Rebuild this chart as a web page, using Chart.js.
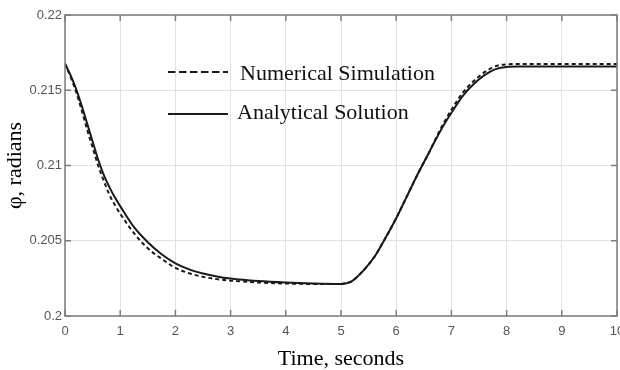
<!DOCTYPE html>
<html>
<head>
<meta charset="utf-8">
<script src="https://cdn.jsdelivr.net/npm/chart.js@4.4.1/dist/chart.umd.min.js"></script>
<style>
  html, body { margin: 0; padding: 0; background: #fff; }
</style>
</head>
<body>
<canvas id="phiChart" width="620" height="370"></canvas>
<script>
// time axis (seconds) shared by both curves
const timeS = [0, 0.1, 0.2, 0.3, 0.4, 0.5, 0.6, 0.7, 0.8, 0.9, 1.0, 1.25, 1.5, 1.75, 2.0, 2.25, 2.5, 2.75, 3.0, 3.5, 4.0, 4.5, 5.0,
  5.1, 5.2, 5.4, 5.6, 5.8, 6.0, 6.2, 6.4, 6.6, 6.8, 7.0, 7.2, 7.4, 7.6, 7.8, 8.0, 8.2, 8.5, 9.0, 9.5, 10];

const analytical = [0.21676, 0.2160, 0.2151, 0.2140, 0.2128, 0.2116, 0.2104, 0.2094, 0.2086, 0.2079, 0.2073,
  0.2059, 0.2049, 0.2041, 0.2035, 0.2031, 0.20283, 0.20263, 0.20249, 0.20232, 0.20222, 0.20216, 0.20213,
  0.20218, 0.20232, 0.2030, 0.2039, 0.20515, 0.2065, 0.2080, 0.2095, 0.2109, 0.2123, 0.2135, 0.2146, 0.2154, 0.2160, 0.2164,
  0.21655, 0.21657, 0.21657, 0.21657, 0.21657, 0.21657];

const numerical = [0.21676, 0.2159, 0.2149, 0.2137, 0.2124, 0.2112, 0.2100, 0.2090, 0.2081, 0.2074, 0.2068,
  0.2055, 0.2045, 0.2038, 0.2032, 0.20284, 0.2026, 0.20245, 0.20235, 0.20223, 0.20216, 0.20213, 0.20213,
  0.20218, 0.20232, 0.2030, 0.2039, 0.20515, 0.2065, 0.2080, 0.2095, 0.2109, 0.2124, 0.2137, 0.2148, 0.2156, 0.2162, 0.2166,
  0.21672, 0.21674, 0.21674, 0.21674, 0.21674, 0.21674];

const xTicks = [0, 1, 2, 3, 4, 5, 6, 7, 8, 9, 10];
const xTickLabels = ['0', '1', '2', '3', '4', '5', '6', '7', '8', '9', '10'];
const yTicks = [0.2, 0.205, 0.21, 0.215, 0.22];
const yTickLabels = ['0.2', '0.205', '0.21', '0.215', '0.22'];

const tickFont = {family: '"Liberation Sans Narrow", "Arial Narrow", "Liberation Sans", sans-serif', size: 13};
const serif = '"Liberation Serif", "Times New Roman", serif';

function toPoints(ys) {
  return timeS.map((t, i) => ({x: t, y: ys[i]}));
}

// box around the plot, inward tick marks (matlab look) and the legend inside the axes
const boxPlugin = {
  id: 'box',
  afterDraw(chart) {
    const {ctx, chartArea: a, scales: {x, y}} = chart;
    ctx.save();
    ctx.strokeStyle = '#7d7d7d';
    ctx.lineWidth = 1.5;
    ctx.strokeRect(a.left, a.top, a.right - a.left, a.bottom - a.top);
    ctx.beginPath();
    xTicks.forEach(v => {
      const px = x.getPixelForValue(v);
      ctx.moveTo(px, a.bottom); ctx.lineTo(px, a.bottom - 6);
      ctx.moveTo(px, a.top); ctx.lineTo(px, a.top + 6);
    });
    yTicks.forEach(v => {
      const py = y.getPixelForValue(v);
      ctx.moveTo(a.left, py); ctx.lineTo(a.left + 6, py);
      ctx.moveTo(a.right, py); ctx.lineTo(a.right - 6, py);
    });
    ctx.stroke();

    // legend
    const rows = [{y: 72, ty: 80, tx: 240}, {y: 114, ty: 119, tx: 237}];
    ctx.font = '22px ' + serif;
    ctx.fillStyle = '#111';
    ctx.textBaseline = 'alphabetic';
    chart.data.datasets.forEach((ds, i) => {
      const r = rows[i];
      ctx.strokeStyle = ds.borderColor;
      ctx.lineWidth = 2;
      ctx.setLineDash(ds.borderDash ? [7.5, 3.5] : []);
      ctx.beginPath();
      ctx.moveTo(a.left + 103, r.y);
      ctx.lineTo(a.left + 163, r.y);
      ctx.stroke();
      ctx.setLineDash([]);
      ctx.fillText(ds.label, r.tx, r.ty);
    });
    ctx.restore();
  }
};

new Chart(document.getElementById('phiChart'), {
  type: 'line',
  data: {
    datasets: [{
      label: 'Numerical Simulation',
      data: toPoints(numerical),
      borderColor: '#1a1a1a',
      borderWidth: 2,
      borderDash: [4, 3],
      pointRadius: 0,
      cubicInterpolationMode: 'monotone'
    }, {
      label: 'Analytical Solution',
      data: toPoints(analytical),
      borderColor: '#1a1a1a',
      borderWidth: 2,
      pointRadius: 0,
      cubicInterpolationMode: 'monotone'
    }]
  },
  options: {
    responsive: false,
    animation: false,
    layout: {padding: {top: 15, right: 3}},
    plugins: {legend: {display: false}, tooltip: {enabled: false}},
    scales: {
      x: {
        type: 'linear',
        min: 0,
        max: 10,
        afterBuildTicks: s => { s.ticks = xTicks.map(v => ({value: v})); },
        afterFit: s => { s.height = 54; s.paddingLeft = 0; s.paddingRight = 0; },
        ticks: {font: tickFont, color: '#555', padding: 8, maxRotation: 0, callback: (v, i) => xTickLabels[i]},
        grid: {color: '#e2e2e2', drawTicks: false},
        border: {display: false},
        title: {display: true, text: 'Time, seconds', color: '#000', font: {family: serif, size: 22, lineHeight: 1}, padding: 0}
      },
      y: {
        type: 'linear',
        min: 0.2,
        max: 0.22,
        afterBuildTicks: s => { s.ticks = yTicks.map(v => ({value: v})); },
        afterFit: s => { s.width = 65; },
        ticks: {font: tickFont, color: '#555', padding: 3, callback: (v, i) => yTickLabels[i]},
        grid: {color: '#e2e2e2', drawTicks: false},
        border: {display: false},
        title: {display: true, text: 'φ, radians', color: '#000', font: {family: serif, size: 22, lineHeight: 1}, padding: {top: 4}}
      }
    }
  },
  plugins: [boxPlugin]
});
</script>
</body>
</html>
